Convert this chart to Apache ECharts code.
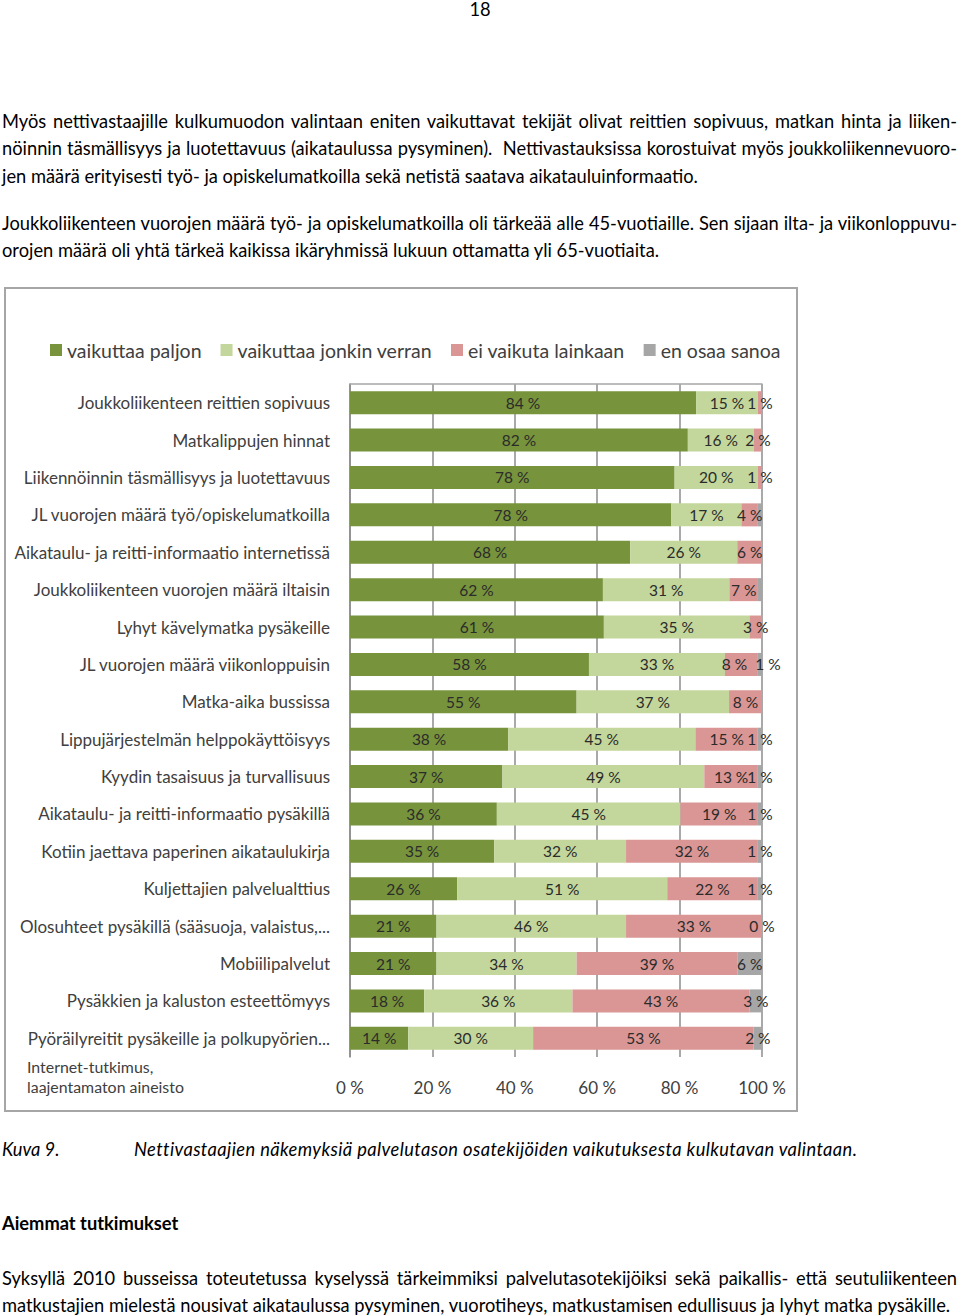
<!DOCTYPE html>
<html>
<head>
<meta charset="utf-8">
<script src="https://cdn.jsdelivr.net/npm/echarts@6/dist/echarts.min.js"></script>
<style>
  html, body { margin: 0; padding: 0; background: #fff; }
  body { width: 960px; height: 1316px; position: relative; overflow: hidden;
         font-family: Lato, "Open Sans", sans-serif; color: #000; }
  .ln { position: absolute; left: 2px; width: 955px; height: 24px; line-height: 24px;
        font-size: 18.3px; text-align: left; white-space: nowrap; }
  .j { text-align: justify; text-align-last: justify; white-space: normal; }
  #frame { position: absolute; left: 4px; top: 287px; width: 794px; height: 825px;
           box-sizing: border-box; border: 2px solid #a6a6a6; }
  #chart { position: absolute; left: 6px; top: 289px; width: 790px; height: 821px; }
</style>
</head>
<body>
<div class="ln" style="top:0px;left:0;width:960px;height:19px;line-height:19px;text-align:center;">18</div>

<div class="ln j" style="top:109px;">Myös nettivastaajille kulkumuodon valintaan eniten vaikuttavat tekijät olivat reittien sopivuus, matkan hinta ja liiken-</div>
<div class="ln j" style="top:136px;">nöinnin täsmällisyys ja luotettavuus (aikataulussa pysyminen).&nbsp; Nettivastauksissa korostuivat myös joukkoliikennevuoro-</div>
<div class="ln" style="top:164px;">jen määrä erityisesti työ- ja opiskelumatkoilla sekä netistä saatava aikatauluinformaatio.</div>

<div class="ln j" style="top:211px;">Joukkoliikenteen vuorojen määrä työ- ja opiskelumatkoilla oli tärkeää alle 45-vuotiaille. Sen sijaan ilta- ja viikonloppuvu-</div>
<div class="ln" style="top:238px;">orojen määrä oli yhtä tärkeä kaikissa ikäryhmissä lukuun ottamatta yli 65-vuotiaita.</div>

<div id="frame"></div>
<div id="chart"></div>

<div class="ln" style="top:1137px;font-style:italic;">Kuva 9.</div>
<div class="ln" style="top:1137px;left:134px;width:820px;font-style:italic;letter-spacing:0.4px;">Nettivastaajien näkemyksiä palvelutason osatekijöiden vaikutuksesta kulkutavan valintaan.</div>

<div class="ln" style="top:1211px;font-weight:bold;">Aiemmat tutkimukset</div>

<div class="ln j" style="top:1266px;">Syksyllä 2010 busseissa toteutetussa kyselyssä tärkeimmiksi palvelutasotekijöiksi sekä paikallis- että seutuliikenteen</div>
<div class="ln" style="top:1293px;">matkustajien mielestä nousivat aikataulussa pysyminen, vuorotiheys, matkustamisen edullisuus ja lyhyt matka pysäkille.</div>

<script>
const categories = [
  'Joukkoliikenteen reittien sopivuus',
  'Matkalippujen hinnat',
  'Liikennöinnin täsmällisyys ja luotettavuus',
  'JL vuorojen määrä työ/opiskelumatkoilla',
  'Aikataulu- ja reitti-informaatio internetissä',
  'Joukkoliikenteen vuorojen määrä iltaisin',
  'Lyhyt kävelymatka pysäkeille',
  'JL vuorojen määrä viikonloppuisin',
  'Matka-aika bussissa',
  'Lippujärjestelmän helppokäyttöisyys',
  'Kyydin tasaisuus ja turvallisuus',
  'Aikataulu- ja reitti-informaatio pysäkillä',
  'Kotiin jaettava paperinen aikataulukirja',
  'Kuljettajien palvelualttius',
  'Olosuhteet pysäkillä (sääsuoja, valaistus,...',
  'Mobiilipalvelut',
  'Pysäkkien ja kaluston esteettömyys',
  'Pyöräilyreitit pysäkeille ja polkupyörien...'
];
const seriesNames = ['vaikuttaa paljon', 'vaikuttaa jonkin verran', 'ei vaikuta lainkaan', 'en osaa sanoa'];
const vaikuttaaPaljon = [84, 82, 78, 78, 68, 62, 61, 58, 55, 38, 37, 36, 35, 26, 21, 21, 18, 14];
const vaikuttaaJonkin = [15, 16, 20, 17, 26, 31, 35, 33, 37, 45, 49, 45, 32, 51, 46, 34, 36, 30];
const eiVaikuta       = [1, 2, 1, 4, 6, 7, 3, 8, 8, 15, 13, 19, 32, 22, 33, 39, 43, 53];
const enOsaaSanoa     = [null, null, null, 1, null, 1, null, 1, null, 1, 1, 1, 1, 1, 0, 6, 3, 2];
// rows whose "en osaa sanoa" label is not shown in the original
const hiddenGrayLabels = [3, 5];
const xTicks = [0, 20, 40, 60, 80, 100];
const sourceNote = 'Internet-tutkimus,\nlaajentamaton aineisto';

const colors = ['#77933C', '#C3D69B', '#D99694', '#A6A6A6'];
const raw = [vaikuttaaPaljon, vaikuttaaJonkin, eiVaikuta, enOsaaSanoa];
const sums = categories.map((c, i) => raw.reduce((s, arr) => s + (arr[i] || 0), 0));
// small label nudges to keep adjacent end labels apart (row index -> {series: dx})
const labelNudges = { 7: { 2: -7, 3: 8 } };

const series = raw.map((arr, si) => ({
  name: seriesNames[si],
  type: 'bar',
  stack: 'total',
  barWidth: 23,
  itemStyle: { color: colors[si] },
  label: {
    show: true, position: 'inside', color: '#2b2b2b', fontSize: 15.5,
    fontFamily: 'Lato, sans-serif',
    formatter: p => p.data.raw + ' %'
  },
  emphasis: { disabled: true },
  data: arr.map((v, i) => {
    if (v === null) return { value: null, raw: null };
    const item = { value: v / sums[i] * 100, raw: v };
    if (si === 3 && hiddenGrayLabels.includes(i)) item.label = { show: false };
    if (labelNudges[i] && labelNudges[i][si] !== undefined) item.label = { offset: [labelNudges[i][si], 0] };
    return item;
  })
}));

const chart = echarts.init(document.getElementById('chart'), null, { renderer: 'svg' });
chart.setOption({
  animation: false,
  textStyle: { fontFamily: 'Lato, sans-serif' },
  legend: {
    left: 39, top: 46, itemWidth: 12, itemHeight: 12, itemGap: 19,
    icon: 'rect',
    textStyle: { fontSize: 19.5, color: '#404040' },
    data: seriesNames
  },
  grid: { left: 344, right: 34, top: 95, bottom: 53, containLabel: false },
  xAxis: [{
    type: 'value', min: 0, max: 100, interval: 20,
    axisLine: { show: false }, axisTick: { show: false },
    splitLine: { show: true, lineStyle: { color: '#8c8c8c', width: 1.5 } },
    axisLabel: { fontSize: 17, color: '#404040', margin: 22,
      formatter: v => xTicks.includes(v) ? v + ' %' : '' }
  }, {
    type: 'value', min: 0, max: 100, position: 'top',
    axisLine: { show: true, lineStyle: { color: '#a6a6a6', width: 1.5 } },
    axisTick: { show: false }, axisLabel: { show: false }, splitLine: { show: false }
  }],
  yAxis: {
    type: 'category', inverse: true, data: categories,
    axisLine: { show: true, lineStyle: { color: '#8c8c8c', width: 1.5 } },
    axisTick: { show: false },
    axisLabel: { fontSize: 17, color: '#404040', margin: 20 }
  },
  graphic: [{
    type: 'text', left: 21, top: 767,
    style: { text: sourceNote, fontSize: 15.9, lineHeight: 20, fill: '#404040',
             fontFamily: 'Lato, sans-serif' }
  }],
  series: series
});
</script>
</body>
</html>
